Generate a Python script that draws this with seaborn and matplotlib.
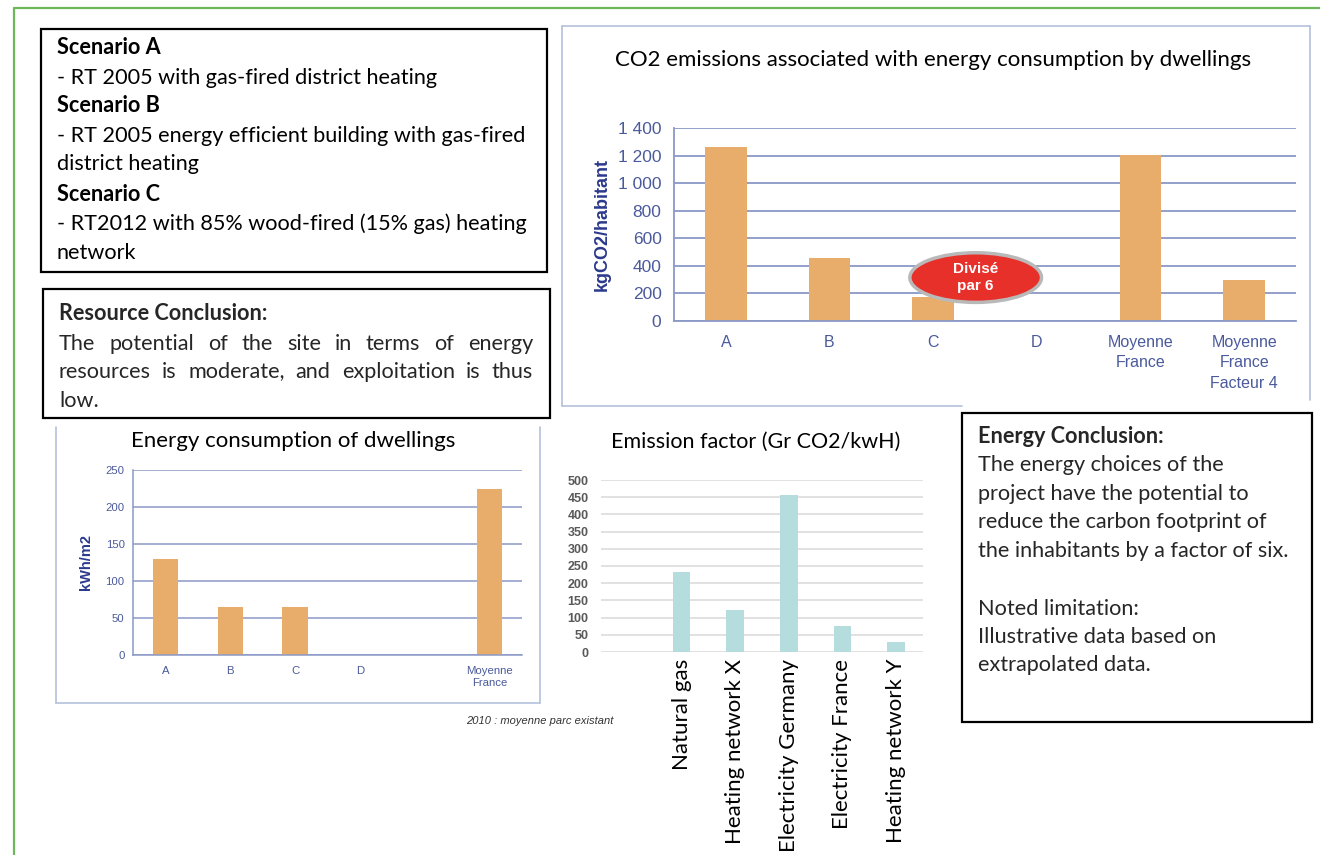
import numpy as np
import pandas as pd
import matplotlib
matplotlib.use("Agg")
import matplotlib.pyplot as plt
from matplotlib.patches import Ellipse, Rectangle
from matplotlib import font_manager as fm
import seaborn as sns

# ---------------- data ----------------
co2_categories = ["A", "B", "C", "D", "Moyenne\nFrance", "Moyenne\nFrance\nFacteur 4"]
co2_values = [1265, 460, 175, 0, 1205, 295]
co2_yticks = [0, 200, 400, 600, 800, 1000, 1200, 1400]
co2_ytick_labels = ["0", "200", "400", "600", "800", "1 000", "1 200", "1 400"]

energy_categories = ["A", "B", "C", "D", "", "Moyenne\nFrance"]
energy_values = [130, 65, 65, 0, 0, 225]
energy_yticks = [0, 50, 100, 150, 200, 250]

emission_categories = ["", "Natural gas", "Heating network X", "Electricity Germany",
                       "Electricity France", "Heating network Y"]
emission_values = [0, 234, 122, 457, 75, 29]
emission_yticks = [0, 50, 100, 150, 200, 250, 300, 350, 400, 450, 500]

scenario_lines = [
    ("Scenario A", True),
    ("- RT 2005 with gas-fired district heating", False),
    ("Scenario B", True),
    ("- RT 2005 energy efficient building with gas-fired", False),
    ("district heating", False),
    ("Scenario C", True),
    ("- RT2012 with 85% wood-fired (15% gas) heating", False),
    ("network", False),
]
resource_title = "Resource Conclusion:"
resource_lines = ["The potential of the site in terms of energy",
                  "resources is moderate, and exploitation is thus",
                  "low."]
energy_concl_lines = [
    ("Energy Conclusion:", True),
    ("The energy choices of the", False),
    ("project have the potential to", False),
    ("reduce the carbon footprint of", False),
    ("the inhabitants by a factor of six.", False),
    ("", False),
    ("Noted limitation:", False),
    ("Illustrative data based on", False),
    ("extrapolated data.", False),
]

# ---------------- style ----------------
sns.set_style("white")
available = {f.name for f in fm.fontManager.ttflist}
NARROW = "Liberation Sans Narrow" if "Liberation Sans Narrow" in available else "Liberation Sans"
BODY = "Lato"
plt.rcParams["font.family"] = [BODY, "DejaVu Sans"]

W, H = 1320, 855
fig = plt.figure(figsize=(W / 100, H / 100), dpi=100)
fig.patch.set_facecolor("white")


def px_axes(x0, y0, x1, y1):
    return fig.add_axes([x0 / W, 1 - y1 / H, (x1 - x0) / W, (y1 - y0) / H])


bg = fig.add_axes([0, 0, 1, 1])
bg.set_xlim(0, W)
bg.set_ylim(H, 0)
bg.axis("off")
bg.patch.set_alpha(0)

BAR = "#e8ad6a"
TEAL = "#b6dddd"
GRIDB = "#8a99c6"
TICKB = "#4a5a9c"
NAVY = "#2b3a8c"
PANEL = "#b4c0dc"

# green frame
bg.plot([14, W], [8, 8], color="#6cb85a", lw=1.6)
bg.plot([14, 14], [8, H], color="#6cb85a", lw=1.6)

# CO2 panel border
bg.plot([562, 1310], [26, 26], color=PANEL, lw=1.2)
bg.plot([562, 562], [26, 406], color=PANEL, lw=1.2)
bg.plot([1310, 1310], [26, 400], color=PANEL, lw=1.2)
bg.plot([562, 962], [406, 406], color=PANEL, lw=1.2)
# energy panel border
bg.plot([56, 56], [427, 703], color=PANEL, lw=1.2)
bg.plot([540, 540], [427, 703], color=PANEL, lw=1.2)
bg.plot([56, 540], [703, 703], color=PANEL, lw=1.2)

# text boxes
for (x0, y0, x1, y1) in [(41, 29, 547, 272), (43, 289, 550, 418), (962, 413, 1312, 722)]:
    bg.add_patch(Rectangle((x0, y0), x1 - x0, y1 - y0, fill=False, ec="black", lw=1.6))

FS = 15.6
VA = "baseline"
OFF = 6.5   # baseline offset from line centre (px)
ys = [48, 77, 106, 135, 164, 194, 223, 252]
for (txt, bold), y in zip(scenario_lines, ys):
    bg.text(57, y + OFF, txt, fontsize=FS, fontweight="bold" if bold else "normal",
            va=VA, ha="left", color="black")

bg.text(59, 313 + OFF, resource_title, fontsize=FS, fontweight="bold", va=VA, ha="left")
renderer = fig.canvas.get_renderer()


def justify(words, x0, x1, y):
    ts = [bg.text(0, y, w, fontsize=FS, va=VA, ha="left") for w in words]
    widths = [t.get_window_extent(renderer).width for t in ts]
    gap = (x1 - x0 - sum(widths)) / (len(words) - 1)
    x = x0
    for t, w in zip(ts, widths):
        t.set_x(x)
        x += w + gap


justify(resource_lines[0].split(), 59, 533, 343 + OFF)
justify(resource_lines[1].split(), 59, 533, 372 + 5.5)
bg.text(59, 400 + OFF, resource_lines[2], fontsize=FS, va=VA, ha="left")

ys2 = [436, 464, 493, 521, 550, 579, 608, 636, 664]
for (txt, bold), y in zip(energy_concl_lines, ys2):
    if txt:
        bg.text(978, y + OFF, txt, fontsize=FS, fontweight="bold" if bold else "normal",
                va=VA, ha="left")

# ---------------- CO2 chart ----------------
ax1 = px_axes(674, 128, 1296, 321)
sns.barplot(x=co2_categories, y=co2_values, order=co2_categories, color=BAR,
            saturation=1, width=0.4, linewidth=0, ax=ax1)
ax1.set_ylim(0, 1400)
ax1.set_xlim(-0.5, len(co2_categories) - 0.5)
ax1.set_yticks(co2_yticks)
ax1.set_yticklabels(co2_ytick_labels)
ax1.yaxis.grid(True, color=GRIDB, lw=1.3)
ax1.set_axisbelow(True)
for s in ["top", "right"]:
    ax1.spines[s].set_visible(False)
for s in ["left", "bottom"]:
    ax1.spines[s].set_color(GRIDB)
    ax1.spines[s].set_linewidth(1.3)
ax1.set_xticks(np.arange(-0.5, len(co2_categories)), minor=True)
ax1.tick_params(axis="x", which="minor", length=5, color=GRIDB, width=1.2, direction="out")
ax1.tick_params(axis="x", which="major", length=0, pad=10)
ax1.tick_params(axis="y", length=5, color=GRIDB, width=1.2, direction="out", pad=4)
for lab in ax1.get_xticklabels():
    lab.set_fontfamily(NARROW)
    lab.set_fontsize(11.5)
    lab.set_color(TICKB)
    lab.set_linespacing(1.45)
    lab.set_va("top")
for lab in ax1.get_yticklabels():
    lab.set_fontfamily(NARROW)
    lab.set_fontsize(12.5)
    lab.set_color(TICKB)
ax1.set_ylabel("kgCO2/habitant", fontfamily="Liberation Sans", fontweight="bold",
               fontsize=13, color=NAVY, labelpad=5)
ax1.set_xlabel("")
fig.text(933 / W, 1 - 60 / H, "CO2 emissions associated with energy consumption by dwellings",
         fontsize=16, ha="center", va="center", color="black")

ell = Ellipse((2.41, 315), width=1.27, height=360, facecolor="#e8302a",
              edgecolor="#b9b9b9", lw=2.5, zorder=5, clip_on=False)
ax1.add_patch(ell)
ax1.text(2.41, 315, "Divisé\npar 6", ha="center", va="center", color="white",
         fontsize=11, fontweight="bold", fontfamily=NARROW, zorder=6, linespacing=1.3)

# ---------------- Energy chart ----------------
ax2 = px_axes(133, 470, 522, 655)
sns.barplot(x=energy_categories, y=energy_values, order=energy_categories, color=BAR,
            saturation=1, width=0.39, linewidth=0, ax=ax2)
ax2.set_ylim(0, 250)
ax2.set_xlim(-0.5, len(energy_categories) - 0.5)
ax2.set_yticks(energy_yticks)
ax2.yaxis.grid(True, color=GRIDB, lw=1.1)
ax2.set_axisbelow(True)
for s in ["top", "right"]:
    ax2.spines[s].set_visible(False)
for s in ["left", "bottom"]:
    ax2.spines[s].set_color(GRIDB)
    ax2.spines[s].set_linewidth(1.1)
ax2.set_xticks(np.arange(-0.5, len(energy_categories)), minor=True)
ax2.tick_params(axis="x", which="minor", length=3, color=GRIDB, width=1, direction="out")
ax2.tick_params(axis="x", which="major", length=0, pad=8)
ax2.tick_params(axis="y", length=3, color=GRIDB, width=1, direction="out", pad=3)
for lab in ax2.get_xticklabels() + ax2.get_yticklabels():
    lab.set_fontfamily("Liberation Sans")
    lab.set_fontsize(8.2)
    lab.set_color(TICKB)
ax2.set_ylabel("kWh/m2", fontfamily="Liberation Sans", fontweight="bold",
               fontsize=10.5, color=NAVY, labelpad=9)
ax2.set_xlabel("")
fig.text(293 / W, 1 - 441 / H, "Energy consumption of dwellings", fontsize=16,
         ha="center", va="center", color="black")
fig.text(613 / W, 1 - 721 / H, "2010 : moyenne parc existant", fontsize=8,
         fontstyle="italic", fontfamily="Liberation Sans", ha="right", va="center",
         color="#333333")

# ---------------- Emission factor chart ----------------
ax3 = px_axes(601, 480, 923, 652)
sns.barplot(x=emission_categories, y=emission_values, order=emission_categories, color=TEAL,
            saturation=1, width=0.33, linewidth=0, ax=ax3)
ax3.set_ylim(0, 500)
ax3.set_xlim(-0.5, len(emission_categories) - 0.5)
ax3.set_yticks(emission_yticks)
ax3.yaxis.grid(True, color="#d9d9d9", lw=1.1)
ax3.set_axisbelow(True)
for s in ax3.spines.values():
    s.set_visible(False)
ax3.tick_params(axis="both", length=0)
ax3.tick_params(axis="y", pad=9)
ax3.tick_params(axis="x", pad=5)
for lab in ax3.get_yticklabels():
    lab.set_fontfamily("Liberation Sans")
    lab.set_fontweight("bold")
    lab.set_fontsize(9)
    lab.set_color("#595959")
for lab in ax3.get_xticklabels():
    lab.set_rotation(90)
    lab.set_fontsize(16)
    lab.set_color("black")
    lab.set_ha("center")
    lab.set_va("top")
ax3.set_xlabel("")
ax3.set_ylabel("")
fig.text(756 / W, 1 - 442 / H, "Emission factor (Gr CO2/kwH)", fontsize=15.5,
         ha="center", va="center", color="black")

fig.savefig("out.png", dpi=100, facecolor="white")
